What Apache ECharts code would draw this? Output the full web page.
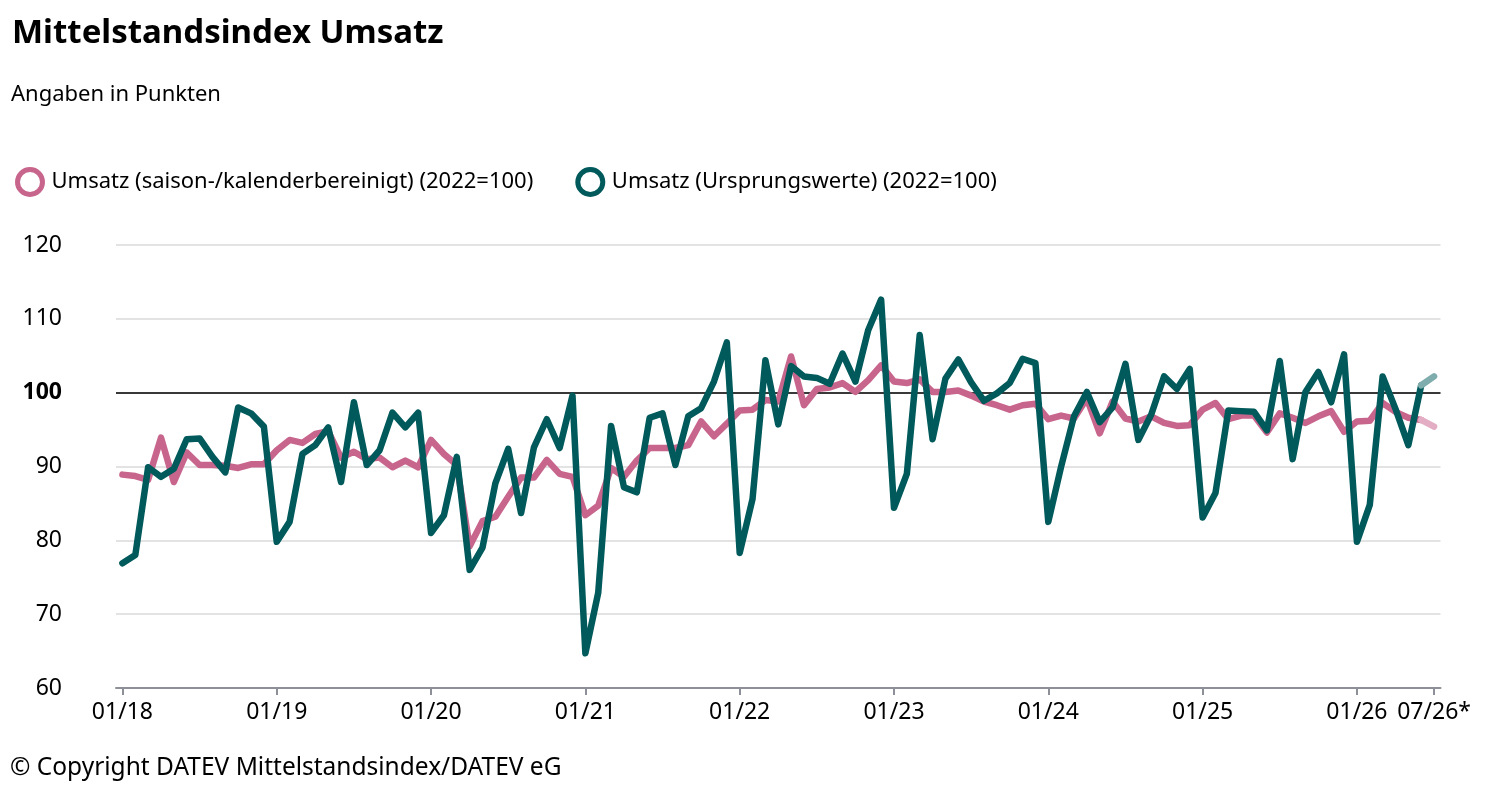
<!DOCTYPE html>
<html>
<head>
<meta charset="utf-8">
<script src="https://cdn.jsdelivr.net/npm/echarts@6/dist/echarts.min.js"></script>
<style>
html,body{margin:0;padding:0;background:#fff;}
#chart{width:1500px;height:789px;}
</style>
</head>
<body>
<div id="chart"></div>
<script>
// Monthly categories 01/18 .. 07/26
const years = ['18','19','20','21','22','23','24','25','26'];
const categories = [];
years.forEach(function (y) {
  for (let m = 1; m <= 12; m++) {
    if (y === '26' && m > 7) break;
    categories.push((m < 10 ? '0' + m : '' + m) + '/' + y);
  }
});
const tickLabels = ['01/18','01/19','01/20','01/21','01/22','01/23','01/24','01/25','01/26','07/26'];
const lastLabelSuffix = '*';

const seriesNames = ['Umsatz (saison-/kalenderbereinigt) (2022=100)', 'Umsatz (Ursprungswerte) (2022=100)'];

// Umsatz saison-/kalenderbereinigt
const adjusted = [
  88.9, 88.7, 88.2, 93.9, 87.9, 91.9, 90.2, 90.2, 90.1, 89.8, 90.3, 90.3,
  92.2, 93.6, 93.2, 94.4, 94.8, 91.2, 92.0, 91.0, 91.2, 89.9, 90.8, 89.9,
  93.6, 91.7, 90.2, 79.2, 82.6, 83.2, 85.9, 88.5, 88.5, 90.9, 89.0, 88.6,
  83.4, 84.7, 89.8, 88.6, 90.8, 92.5, 92.5, 92.5, 92.9, 96.1, 94.1, 95.8,
  97.6, 97.7, 99.0, 98.8, 104.9, 98.3, 100.5, 100.7, 101.3, 100.1, 101.7, 103.7,
  101.5, 101.3, 101.8, 100.1, 100.1, 100.3, 99.6, 98.8, 98.3, 97.7, 98.3, 98.5,
  96.4, 96.9, 96.5, 99.2, 94.5, 98.8, 96.5, 96.1, 96.8, 95.9, 95.5, 95.6,
  97.7, 98.6, 96.4, 96.9, 96.9, 94.6, 97.2, 96.6, 95.9, 96.8, 97.5, 94.7,
  96.1, 96.2, 98.6, 97.4, 96.6, 96.3, 95.4
];

// Umsatz Ursprungswerte
const original = [
  76.9, 78.0, 89.9, 88.6, 89.7, 93.7, 93.8, 91.3, 89.2, 98.0, 97.2, 95.4,
  79.8, 82.5, 91.7, 92.9, 95.3, 87.9, 98.7, 90.2, 92.2, 97.3, 95.3, 97.3,
  81.0, 83.4, 91.3, 76.0, 79.0, 87.7, 92.4, 83.7, 92.6, 96.4, 92.5, 99.6,
  64.7, 72.9, 95.5, 87.2, 86.5, 96.6, 97.2, 90.2, 96.8, 97.9, 101.5, 106.8,
  78.3, 85.6, 104.4, 95.7, 103.6, 102.2, 102.0, 101.2, 105.3, 101.5, 108.5, 112.6,
  84.4, 89.0, 107.8, 93.7, 101.9, 104.5, 101.4, 98.9, 99.9, 101.3, 104.6, 104.0,
  82.5, 90.0, 96.8, 100.1, 96.0, 98.0, 103.9, 93.6, 97.0, 102.2, 100.5, 103.2,
  83.1, 86.4, 97.6, 97.5, 97.4, 94.9, 104.3, 91.0, 100.1, 102.8, 98.7, 105.2,
  79.8, 84.8, 102.2, 97.8, 92.9, 101.0, 102.2
];

// last value of each series is a forecast (drawn faded)
const forecastCount = 1;

const pink = '#c8658c';
const pinkLight = '#e3aec3';
const green = '#005a5b';
const greenLight = '#7fadad';

function split(arr) {
  const n = arr.length;
  const main = arr.map(function (v, i) { return i < n - forecastCount ? v : null; });
  const fc = arr.map(function (v, i) { return i >= n - forecastCount - 1 ? v : null; });
  return [main, fc];
}
const adj = split(adjusted);
const org = split(original);

const FONT = '"Noto Sans", "Open Sans", sans-serif';

const tickSet = {};
tickLabels.forEach(function (t) { tickSet[t] = true; });
function isTick(idx, val) { return !!tickSet[val]; }

const chart = echarts.init(document.getElementById('chart'), null, {renderer: 'canvas'});
chart.setOption({
  animation: false,
  backgroundColor: '#fff',
  textStyle: {fontFamily: FONT},
  title: [
    {text: 'Mittelstandsindex Umsatz', left: 7, top: 12,
     textStyle: {fontFamily: FONT, fontSize: 33, fontWeight: 'bold', color: '#000'}},
    {text: 'Angaben in Punkten', left: 6, top: 79,
     textStyle: {fontFamily: FONT, fontSize: 22, fontWeight: 'normal', color: '#000'}}
  ],
  legend: {
    left: 10, top: 162,
    itemWidth: 25, itemHeight: 25, itemGap: 42,
    textStyle: {fontFamily: FONT, fontSize: 22, color: '#000', padding: [0,0,0,4]},
    data: [
      {name: seriesNames[0], icon: 'circle', itemStyle: {color: '#fff', borderColor: pink, borderWidth: 5}},
      {name: seriesNames[1], icon: 'circle', itemStyle: {color: '#fff', borderColor: green, borderWidth: 5}}
    ]
  },
  grid: {left: 116, right: 59.5, top: 245, bottom: 101, containLabel: false},
  xAxis: {
    type: 'category',
    data: categories,
    boundaryGap: true,
    axisLine: {lineStyle: {color: '#8e9099', width: 2}},
    axisTick: {show: true, alignWithLabel: true, length: 7, interval: isTick, lineStyle: {color: '#8e9099', width: 2}},
    axisLabel: {
      interval: isTick, margin: 13, color: '#000', fontSize: 23, fontFamily: FONT,
      formatter: function (v, i) { return i === categories.length - 1 ? v + lastLabelSuffix : v; }
    },
    splitLine: {show: false}
  },
  yAxis: {
    type: 'value', min: 60, max: 120, interval: 10,
    axisLine: {show: false}, axisTick: {show: false},
    axisLabel: {
      margin: 54, color: '#000', fontSize: 23, fontFamily: FONT,
      formatter: function (v) { return v === 100 ? '{b|100}' : String(v); },
      rich: {b: {fontWeight: 'bold', fontSize: 23, fontFamily: FONT, color: '#000'}}
    },
    splitLine: {lineStyle: {color: '#e3e3e3', width: 2}}
  },
  series: [
    {
      name: seriesNames[0], type: 'line', data: adj[0], showSymbol: false, symbol: 'none',
      lineStyle: {color: pink, width: 6.5, join: 'round', cap: 'round'}, itemStyle: {color: pink}, z: 3,
      markLine: {
        silent: true, symbol: 'none', z: 2, label: {show: false},
        lineStyle: {color: '#000', width: 1.6, type: 'solid'},
        data: [{yAxis: 100}]
      }
    },
    {
      name: seriesNames[0] + ' Prognose', type: 'line', data: adj[1], showSymbol: false, symbol: 'none',
      lineStyle: {color: pinkLight, width: 6.5, cap: 'round'}, itemStyle: {color: pinkLight}, z: 3
    },
    {
      name: seriesNames[1], type: 'line', data: org[0], showSymbol: false, symbol: 'none',
      lineStyle: {color: green, width: 6.5, join: 'round', cap: 'round'}, itemStyle: {color: green}, z: 4
    },
    {
      name: seriesNames[1] + ' Prognose', type: 'line', data: org[1], showSymbol: false, symbol: 'none',
      lineStyle: {color: greenLight, width: 6.5, cap: 'round'}, itemStyle: {color: greenLight}, z: 4
    }
  ],
  graphic: [
    {type: 'text', left: 10, top: 756,
     style: {text: '\u00a9 Copyright DATEV Mittelstandsindex/DATEV eG', fontFamily: FONT, fontSize: 24.5, fill: '#000'}}
  ]
});
</script>
</body>
</html>
